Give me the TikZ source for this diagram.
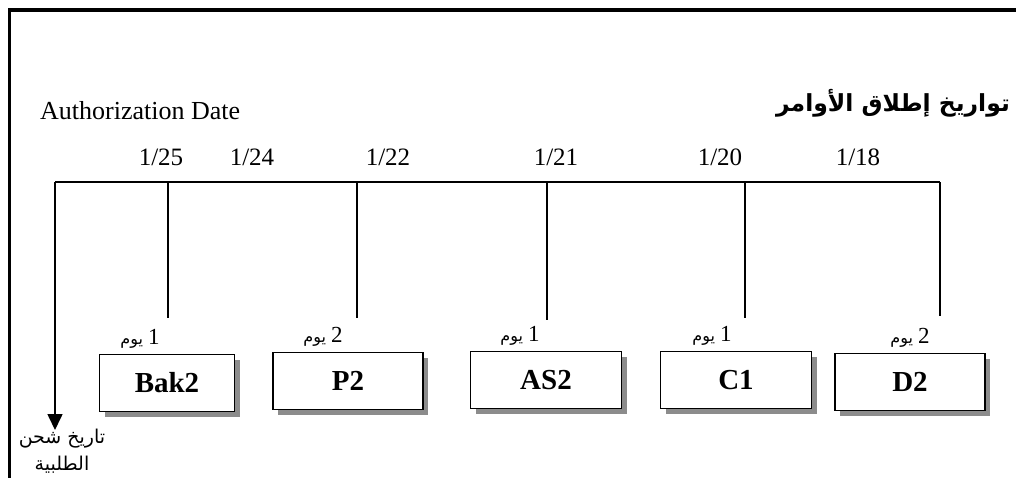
\documentclass[tikz,border=0pt]{standalone}
\usepackage{fontspec}
\setmainfont{Liberation Serif}
\newfontfamily\arabicfont[Script=Arabic]{DejaVu Sans}
\TeXXeTstate=1
\usetikzlibrary{arrows.meta,shadows}
\begin{document}
\begin{tikzpicture}[x=1pt,y=-1pt,
  line/.style={line width=1.6pt,black},
  taskbox/.style={draw=black,line width=1.8pt,fill=white,minimum width=135pt,minimum height=57pt,
    font=\fontsize{29}{32}\selectfont\bfseries,inner sep=0pt,
    drop shadow={shadow xshift=5pt,shadow yshift=-5pt,fill=black!45,opacity=1}},
  date/.style={font=\fontsize{25}{28}\selectfont,inner sep=0pt},
  dur/.style={inner sep=0pt}]
\newcommand{\durtext}[1]{\beginR{\fontsize{23}{26}\selectfont\rmfamily #1}\hspace{5pt}{\arabicfont\fontsize{16}{18}\selectfont يوم}\endR}
\useasboundingbox (0,0) rectangle (1016,477);
% frame
\draw[line width=3.5pt] (9.5,490) -- (9.5,10) -- (1030,10);
% texts
\node[font=\fontsize{26}{28}\selectfont,anchor=west,inner sep=0pt] (auth) at (40,111) {Authorization Date};
\node[font=\arabicfont\bfseries\fontsize{23.5}{26}\selectfont,anchor=east,inner sep=0pt] (title) at (1010,103) {\beginR تواريخ إطلاق الأوامر\endR};
% timeline
\coordinate (t0) at (55,182);
\coordinate (t1) at (168,182);
\coordinate (t2) at (357,182);
\coordinate (t3) at (547,182);
\coordinate (t4) at (745,182);
\coordinate (t5) at (940,182);
\coordinate (e0) at (55,430);
\coordinate (e1) at (168,318);
\coordinate (e2) at (357,318);
\coordinate (e3) at (547,320);
\coordinate (e4) at (745,318);
\coordinate (e5) at (940,316);
\draw[line] (t0) -- (t5);
\draw[line,-{Triangle[width=15pt,length=16pt]}] (t0) -- (e0);
\draw[line] (t1) -- (e1);
\draw[line] (t2) -- (e2);
\draw[line] (t3) -- (e3);
\draw[line] (t4) -- (e4);
\draw[line] (t5) -- (e5);
% dates
\node[date] (d1) at (161,157) {1/25};
\node[date] (d2) at (252,157) {1/24};
\node[date] (d3) at (388,157) {1/22};
\node[date] (d4) at (556,157) {1/21};
\node[date] (d5) at (720,157) {1/20};
\node[date] (d6) at (858,157) {1/18};
% boxes
\node[taskbox] (bak) at (167,383) {Bak2};
\node[taskbox,minimum width=150pt] (p2) at (348,381) {P2};
\node[taskbox,minimum width=151pt] (as2) at (546,380) {AS2};
\node[taskbox,minimum width=151pt] (c1) at (736,380) {C1};
\node[taskbox,minimum width=150pt] (d2) at (910,382) {D2};
% durations
\node[dur] (u1) at (140,339) {\durtext{1}};
\node[dur] (u2) at (323,337) {\durtext{2}};
\node[dur] (u3) at (520,336) {\durtext{1}};
\node[dur] (u4) at (712,336) {\durtext{1}};
\node[dur] (u5) at (910,338) {\durtext{2}};
% ship date
\node[font=\arabicfont\fontsize{19}{27}\selectfont,align=center,inner sep=0pt,anchor=north] (ship) at (62,429) {\beginR تاريخ شحن\endR\\\beginR الطلبية\endR};
\end{tikzpicture}
\end{document}
